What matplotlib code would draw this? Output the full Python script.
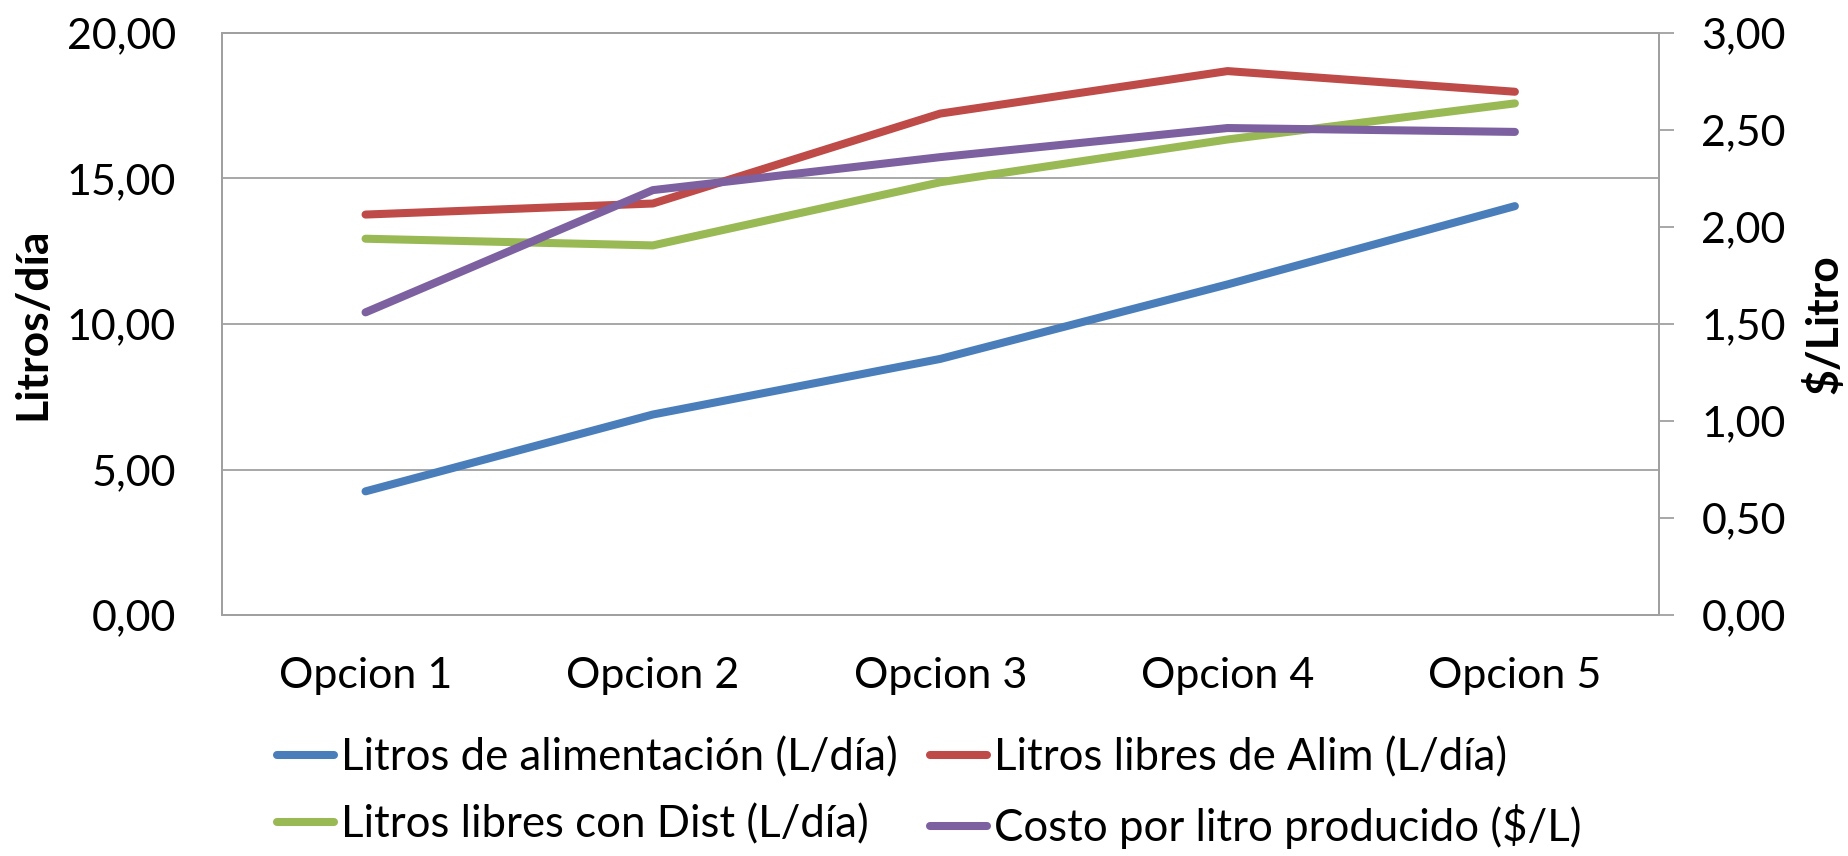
import matplotlib
matplotlib.use("Agg")
import matplotlib.pyplot as plt

plt.rcParams['font.family'] = ['Lato', 'DejaVu Sans']

# data
opciones = ["Opcion 1", "Opcion 2", "Opcion 3", "Opcion 4", "Opcion 5"]
litros_alim = [4.25, 6.89, 8.80, 11.36, 14.05]
litros_libres_alim = [13.76, 14.14, 17.23, 18.69, 17.98]
litros_libres_dist = [12.93, 12.70, 14.87, 16.34, 17.58]
costo_litro = [1.56, 2.19, 2.36, 2.51, 2.49]

labels = ["Litros de alimentación (L/día)", "Litros libres de Alim (L/día)",
          "Litros libres con Dist (L/día)", "Costo por litro producido ($/L)"]
colors = ["#4A7EBB", "#BE4B48", "#98B954", "#7D60A0"]

left_ticks = [0, 5, 10, 15, 20]
right_ticks = [0, 0.5, 1, 1.5, 2, 2.5, 3]

def coma(v):
    return f"{v:.2f}".replace(".", ",")

grid_color = "#a0a0a0"
lw = 5.8

fig = plt.figure(figsize=(18.49, 8.56), dpi=100)
ax = fig.add_axes([0.120, 0.2815, 0.777, 0.680])
ax2 = ax.twinx()

x = list(range(len(opciones)))
l1, = ax.plot(x, litros_alim, color=colors[0], lw=lw, solid_capstyle="round", solid_joinstyle="round")
l2, = ax.plot(x, litros_libres_alim, color=colors[1], lw=lw, solid_capstyle="round", solid_joinstyle="round")
l3, = ax.plot(x, litros_libres_dist, color=colors[2], lw=lw, solid_capstyle="round", solid_joinstyle="round")
l4, = ax2.plot(x, costo_litro, color=colors[3], lw=lw, solid_capstyle="round", solid_joinstyle="round")

ax.set_xlim(-0.5, len(opciones) - 0.5)
ax.set_ylim(0, 20)
ax2.set_ylim(0, 3)

ax.set_xticks(x)
ax.set_xticklabels(opciones, fontsize=31)
ax.set_yticks(left_ticks)
ax.set_yticklabels([coma(v) for v in left_ticks], fontsize=31)
ax2.set_yticks(right_ticks)
ax2.set_yticklabels([coma(v) for v in right_ticks], fontsize=31)

ax.tick_params(axis="x", length=0, pad=30)
ax.tick_params(axis="y", length=0, pad=33)
ax2.tick_params(axis="y", length=10.8, width=1.3, color=grid_color, pad=20)

ax.yaxis.grid(True, color=grid_color, lw=1.3)
ax.set_axisbelow(True)
for a in (ax, ax2):
    for s in a.spines.values():
        s.set_color(grid_color)
        s.set_linewidth(1.3)

ax.set_ylabel("Litros/día", fontsize=32, fontweight="bold", labelpad=10)
ax2.set_ylabel("$/Litro", fontsize=32, fontweight="bold", labelpad=12)

# legend filled row by row (matplotlib fills columns), so reorder
order = [0, 2, 1, 3]
lines = [l1, l2, l3, l4]
fig.legend([lines[i] for i in order], [labels[i] for i in order],
           ncol=2, frameon=False, fontsize=31.5,
           loc="upper left", bbox_to_anchor=(0.150, 0.139),
           handlelength=1.3, handletextpad=0.15, columnspacing=0.75,
           labelspacing=0.6, borderpad=0, borderaxespad=0)

fig.savefig("out.png", dpi=100)
